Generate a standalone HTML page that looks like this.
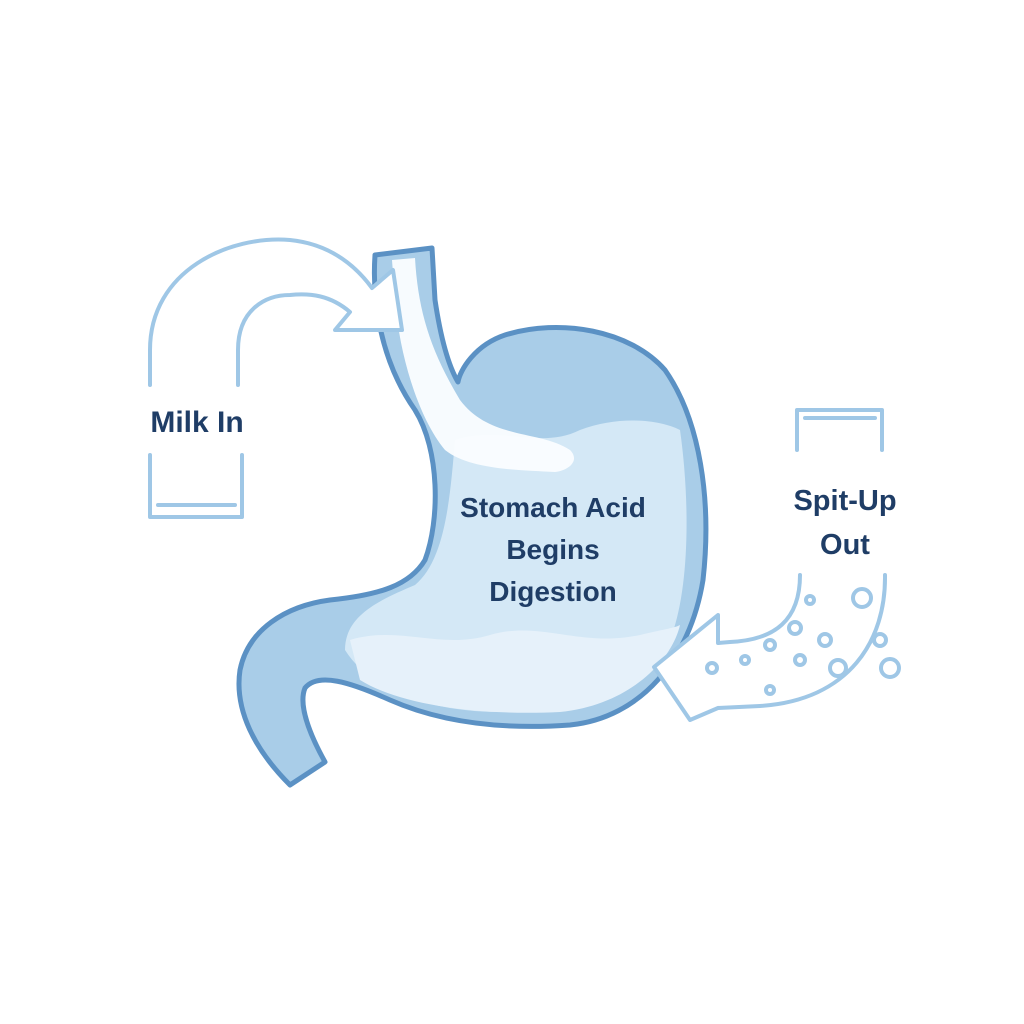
<!DOCTYPE html>
<html><head><meta charset="utf-8"><style>
html,body{margin:0;padding:0;background:#fff;width:1024px;height:1024px;overflow:hidden}
text{font-family:"Liberation Sans",sans-serif;font-weight:bold;fill:#1f3d66}
</style></head><body>
<svg width="1024" height="1024" viewBox="0 0 1024 1024" xmlns="http://www.w3.org/2000/svg">
<rect width="1024" height="1024" fill="#fff"/>
<!-- stomach -->
<path d="M375,255 C372,300 380,360 415,410 C440,450 440,520 425,560 C410,585 380,595 330,600 C285,606 248,630 240,670 C234,710 255,750 290,785 L325,762 C310,735 298,705 305,688 C318,672 350,682 390,700 C440,722 500,730 570,725 C640,718 690,660 703,580 C712,500 700,420 665,370 C630,330 560,318 505,335 C475,345 460,370 458,382 C445,360 438,320 435,300 L432,248 Z" fill="#a9cde8" stroke="#5b91c4" stroke-width="5" stroke-linejoin="round"/>
<path d="M455,440 C500,425 540,450 580,430 C620,415 660,420 680,430 C690,500 690,590 670,640 C640,690 580,712 500,712 C430,712 370,690 345,650 C345,615 380,600 415,585 C445,560 450,500 455,440 Z" fill="#d4e8f6"/>
<path d="M350,640 C400,625 440,650 490,635 C540,620 580,648 640,635 C660,630 675,628 680,625 C672,660 630,705 560,712 C480,716 400,705 360,680 Z" fill="#e6f1fa"/>
<path d="M392,260 L415,258 C418,310 430,350 460,400 C490,440 540,430 570,450 C580,460 570,470 555,472 C520,470 470,470 445,450 C420,420 400,360 395,300 Z" fill="#fbfdff" opacity="0.95"/>
<!-- left arrow -->
<g fill="none" stroke="#9fc7e6" stroke-width="4" stroke-linecap="round" stroke-linejoin="round">
<path d="M150,385 L150,350 C150,270 230,235 290,240 C330,244 355,265 372,288 L393,270 L402,330 L335,330 L350,312 C330,295 310,293 290,295 C265,295 238,310 238,350 L238,385" fill="#fff"/>
<path d="M150,455 V517 H242 V455"/>
<path d="M158,505 H235"/>
<!-- right cup -->
<path d="M797,450 V410 H882 V450"/>
<path d="M805,418 H875"/>
<!-- right arrow -->
<path d="M885,575 C886,640 850,700 760,706 L718,708"/>
<path d="M800,575 C800,620 775,640 730,642 L718,643"/>
<path d="M718,643 L718,615 L654,667 L690,720 L718,708" fill="#fff"/>
<circle cx="712" cy="668" r="5"/><circle cx="745" cy="660" r="4"/><circle cx="770" cy="645" r="5"/>
<circle cx="795" cy="628" r="6"/><circle cx="825" cy="640" r="6"/><circle cx="862" cy="598" r="9"/>
<circle cx="838" cy="668" r="8"/><circle cx="880" cy="640" r="6"/><circle cx="890" cy="668" r="9"/>
<circle cx="770" cy="690" r="4"/><circle cx="800" cy="660" r="5"/><circle cx="810" cy="600" r="4"/>
</g>
<text x="197" y="432" font-size="30" text-anchor="middle">Milk In</text>
<text x="553" y="517" font-size="28" text-anchor="middle">Stomach Acid</text>
<text x="553" y="559" font-size="28" text-anchor="middle">Begins</text>
<text x="553" y="601" font-size="28" text-anchor="middle">Digestion</text>
<text x="845" y="510" font-size="29" text-anchor="middle">Spit-Up</text>
<text x="845" y="554" font-size="29" text-anchor="middle">Out</text>
</svg>
</body></html>
